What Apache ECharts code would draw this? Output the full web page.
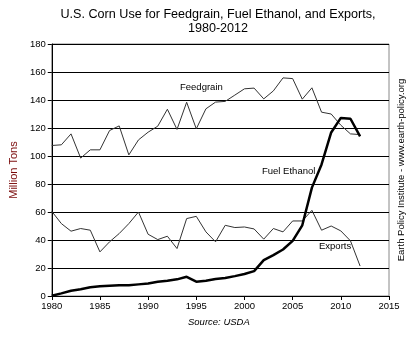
<!DOCTYPE html>
<html><head><meta charset="utf-8">
<script src="https://cdn.jsdelivr.net/npm/echarts@6/dist/echarts.min.js"></script>
<style>html,body{margin:0;padding:0;background:#fff}#c{width:407px;height:340px}</style>
</head><body><div id="c"></div>
<script>
var years = [1980,1981,1982,1983,1984,1985,1986,1987,1988,1989,1990,1991,1992,1993,1994,1995,1996,1997,1998,1999,2000,2001,2002,2003,2004,2005,2006,2007,2008,2009,2010,2011,2012];
var feedgrain = [107.5,108,115.8,98.5,104.4,104.4,118.2,121.5,100.8,111.5,117,121.3,133.4,119,138.4,119.4,133.7,138.5,139,143.5,148,148.5,140.8,146.5,155.8,155.3,140.6,148.7,131.3,130,122,115.8,115.3];
var ethanol = [0.2,1.9,3.8,4.8,6.2,6.9,7.3,7.6,7.6,8.3,9,10.2,10.9,11.9,13.7,10.2,10.9,12.1,12.8,14.2,15.7,17.8,25.6,29.2,33.2,39.4,50.5,77.4,94,116.8,127.2,126.6,114];
var exportsV = [60.5,51.7,46.3,48.2,47,31.5,38.7,44.6,51.7,60,44.1,40.3,42.7,33.9,55.3,56.9,45.8,38.7,50.5,48.9,49.3,47.9,40.6,48.2,45.8,53.6,53.6,61.2,47,50,46.5,39.4,21.4];
var yTicks = [0,20,40,60,80,100,120,140,160,180];

function pairs(v){ return years.map(function(y,i){ return [y, v[i]]; }); }

var chart = echarts.init(document.getElementById('c'), null, {renderer:'canvas'});
var font = 'Arial, "Liberation Sans", sans-serif';
chart.setOption({
  animation:false,
  backgroundColor:'#fff',
  title:{
    text:'U.S. Corn Use for Feedgrain, Fuel Ethanol, and Exports,\n1980-2012',
    left:213, top:3, textAlign:'center',
    textStyle:{fontFamily:font, fontSize:12.6, fontWeight:'normal', color:'#000', lineHeight:14}
  },
  grid:{left:44, right:18, top:44, bottom:44, show:true, borderColor:'#888', borderWidth:1, backgroundColor:'transparent'},
  xAxis:{
    type:'value', min:1980, max:2015, interval:5,
    axisLine:{show:true, onZero:false, lineStyle:{color:'#000', width:1}},
    axisTick:{show:true, length:4, inside:false, lineStyle:{color:'#000'}},
    axisLabel:{fontFamily:font, fontSize:9.5, color:'#000', margin:5, formatter:function(v){return String(v);}},
    splitLine:{show:false}
  },
  yAxis:{
    type:'value', min:0, max:180, interval:20,
    name:'Million Tons', nameLocation:'middle', nameGap:29, nameRotate:90,
    nameTextStyle:{fontFamily:font, fontSize:11, color:'#7a0a0a'},
    axisLine:{show:true, lineStyle:{color:'#000', width:1}},
    axisTick:{show:true, length:4, lineStyle:{color:'#000'}},
    axisLabel:{fontFamily:font, fontSize:9.5, color:'#000', margin:6, formatter:function(v){return yTicks.indexOf(v)>=0?String(v):'';}},
    splitLine:{show:true, lineStyle:{color:'#000', width:1}}
  },
  series:[
    {name:'Feedgrain', type:'line', data:pairs(feedgrain), symbol:'none', lineStyle:{color:'#333', width:1}, z:3},
    {name:'Exports', type:'line', data:pairs(exportsV), symbol:'none', lineStyle:{color:'#333', width:1}, z:3},
    {name:'Fuel Ethanol', type:'line', data:pairs(ethanol), symbol:'none', lineStyle:{color:'#000', width:2.5}, z:4}
  ],
  graphic:[
    {type:'text', left:180, top:82, style:{text:'Feedgrain', font:'9.5px '+font, fill:'#000'}},
    {type:'text', left:262, top:166, style:{text:'Fuel Ethanol', font:'9.5px '+font, fill:'#000'}},
    {type:'text', left:319, top:241, style:{text:'Exports', font:'9.5px '+font, fill:'#000'}},
    {type:'text', left:188, top:317, style:{text:'Source: USDA', font:'italic 9.5px '+font, fill:'#000'}},
    {type:'text', x:401, y:170, rotation:Math.PI/2, style:{text:'Earth Policy Institute - www.earth-policy.org', font:'9.5px '+font, fill:'#000', align:'center', verticalAlign:'middle'}}
  ]
});
</script></body></html>
